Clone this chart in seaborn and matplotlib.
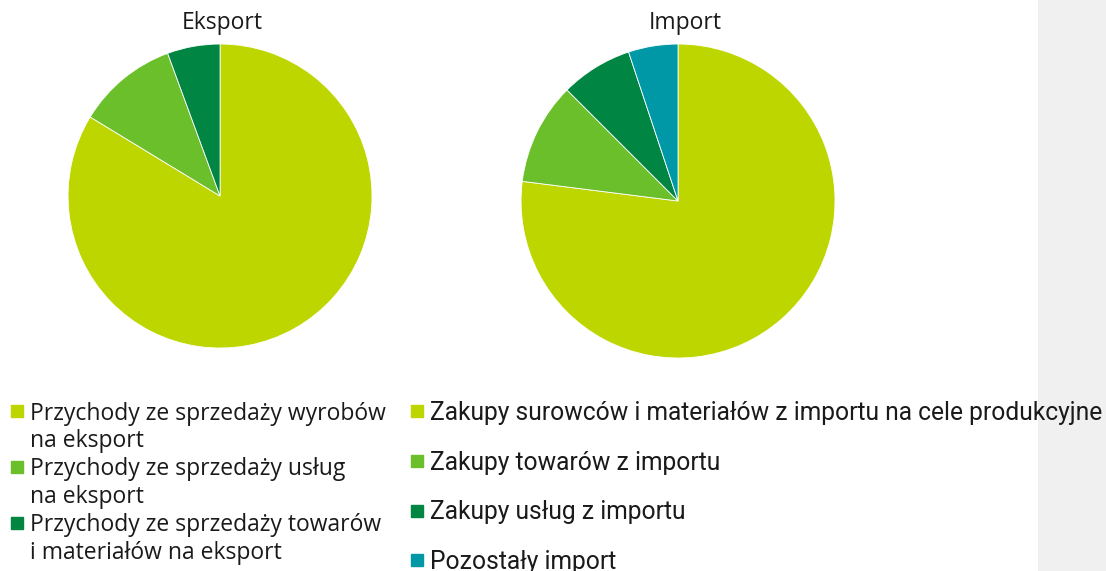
import matplotlib
matplotlib.use("Agg")
import matplotlib.pyplot as plt
from matplotlib.lines import Line2D
from matplotlib.patches import Rectangle
import seaborn as sns

# Data
export_labels = ["Przychody ze sprzedaży wyrobów\nna eksport",
                 "Przychody ze sprzedaży usług\nna eksport",
                 "Przychody ze sprzedaży towarów\ni materiałów na eksport"]
export_values = [83.7, 10.7, 5.6]

import_labels = ["Zakupy surowców i materiałów z importu na cele produkcyjne",
                 "Zakupy towarów z importu",
                 "Zakupy usług z importu",
                 "Pozostały import"]
import_values = [77.0, 10.5, 7.4, 5.1]

colors = ["#bed600", "#6abf2a", "#008542", "#0098a6"]

sns.set_theme(style="white")
plt.rcParams["font.family"] = ["Open Sans", "DejaVu Sans"]
plt.rcParams["text.color"] = "#1a1a1a"

fig = plt.figure(figsize=(11.06, 5.71), dpi=100)
fig.patches.append(Rectangle((1038 / 1106, 0), 1 - 1038 / 1106, 1, transform=fig.transFigure,
                             facecolor="#f0f0f0", edgecolor="none", zorder=0))

ax1 = fig.add_axes([0.0615, 0.3905, 0.2749, 0.5324])
ax2 = fig.add_axes([0.4711, 0.373, 0.2839, 0.5499])
wp = dict(edgecolor="white", linewidth=0.6)
ax1.pie(export_values, colors=colors[:3], startangle=90, counterclock=False, wedgeprops=wp)
ax2.pie(import_values, colors=colors, startangle=90, counterclock=False, wedgeprops=wp)
for ax in (ax1, ax2):
    ax.set_xlim(-1, 1)
    ax.set_ylim(-1, 1)
    ax.set_aspect("equal")
    ax.axis("off")

fig.text(222 / 1106, 1 - 23 / 571, "Eksport", ha="center", va="center", fontsize=16.5)
fig.text(685 / 1106, 1 - 23 / 571, "Import", ha="center", va="center", fontsize=16.5)


def square(c):
    return Line2D([], [], marker="s", linestyle="", color=c, markersize=9)


# Left legend: marker sits on the first line of each wrapped label
left_handles, left_texts = [], []
for c, lab in zip(colors, export_labels):
    for i, line in enumerate(lab.split("\n")):
        left_handles.append(square(c) if i == 0 else Line2D([], [], linestyle=""))
        left_texts.append(line)

fig.legend(left_handles, left_texts, loc="upper left",
           bbox_to_anchor=(9 / 1106, 1 - 401.5 / 571), frameon=False, fontsize=16.5,
           handlelength=0.7, handletextpad=0.22, labelspacing=0.17, borderpad=0,
           borderaxespad=0)
fig.legend([square(c) for c in colors], import_labels, loc="upper left",
           bbox_to_anchor=(410.5 / 1106, 1 - 401 / 571), frameon=False,
           prop=dict(family="Roboto", size=17.7),
           handlelength=0.53, handletextpad=0.26, labelspacing=1.04, borderpad=0,
           borderaxespad=0)

fig.savefig("out.png", dpi=100)
